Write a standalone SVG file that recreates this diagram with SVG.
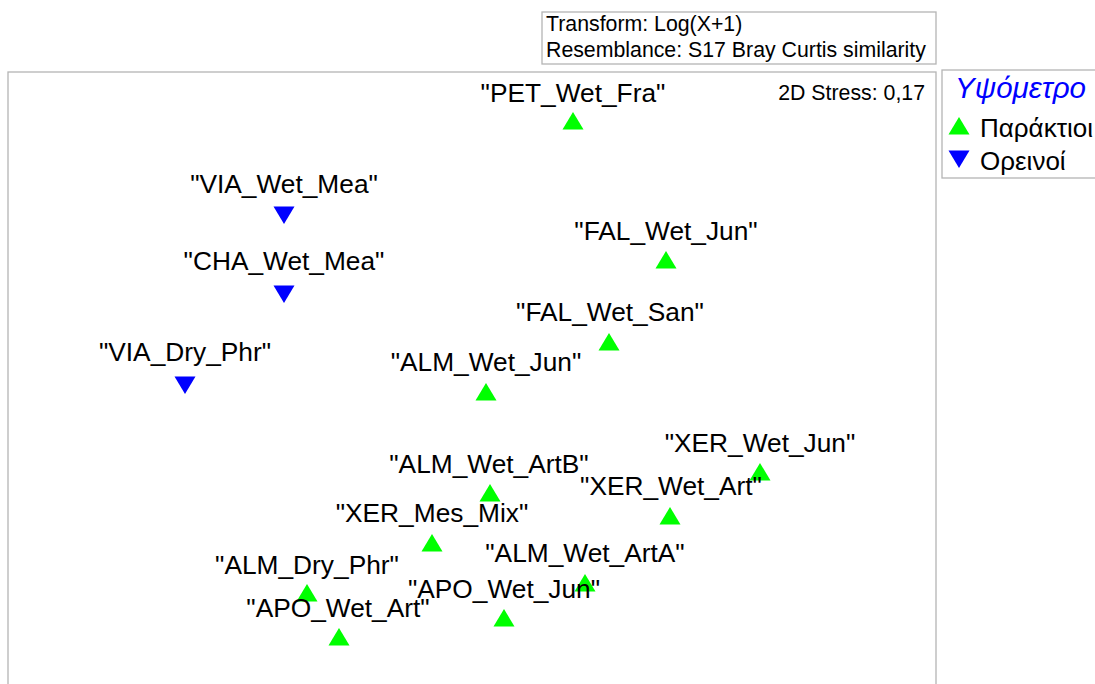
<svg xmlns="http://www.w3.org/2000/svg" width="1095" height="684" viewBox="0 0 1095 684">
<style>
.box{fill:#fff;stroke:#b4b4b4;stroke-width:1.3}
.lbl{font-family:"Liberation Sans",Arial,sans-serif;font-size:26.3px;fill:#000;text-anchor:middle}
.info{font-family:"Liberation Sans",Arial,sans-serif;font-size:21.3px;fill:#000}
.leg{font-family:"Liberation Sans",Arial,sans-serif;font-size:26px;fill:#000}
.up{fill:#00ff00}
.dn{fill:#0000ff}
</style>
<defs>
<polygon id="tu" points="0,-9 10.5,8.5 -10.5,8.5"/>
<polygon id="td" points="-10.5,-8.5 10.5,-8.5 0,9"/>
</defs>
<rect width="1095" height="684" fill="#fff"/>
<g id="info">
<rect class="box" x="542" y="12" width="394" height="52"/>
<text class="info" x="546" y="31">Transform: Log(X+1)</text>
<text class="info" x="546" y="57">Resemblance: S17 Bray Curtis similarity</text>
</g>
<g id="plot">
<rect class="box" x="8" y="72" width="928" height="630"/>
<text class="info" x="925" y="100" text-anchor="end">2D Stress: 0,17</text>
</g>
<g id="legend">
<rect class="box" x="942" y="70" width="170" height="108"/>
<text x="955" y="98" style="font-family:'Liberation Sans',Arial,sans-serif;font-size:29.5px;font-style:italic;fill:#0000ff">Υψόμετρο</text>
<use href="#tu" class="up" x="959" y="126"/>
<text class="leg" x="980" y="137">Παράκτιοι</text>
<use href="#td" class="dn" x="959" y="159"/>
<text class="leg" x="980" y="170">Ορεινοί</text>
</g>
<g id="connectors"></g>
<g id="n-PET_Wet_Fra"><text class="lbl" x="573" y="102">"PET_Wet_Fra"</text><use href="#tu" class="up" x="573" y="121"/></g>
<g id="n-VIA_Wet_Mea"><text class="lbl" x="284" y="193">"VIA_Wet_Mea"</text><use href="#td" class="dn" x="284" y="215"/></g>
<g id="n-CHA_Wet_Mea"><text class="lbl" x="284" y="270">"CHA_Wet_Mea"</text><use href="#td" class="dn" x="284" y="294"/></g>
<g id="n-VIA_Dry_Phr"><text class="lbl" x="185" y="361">"VIA_Dry_Phr"</text><use href="#td" class="dn" x="185" y="385"/></g>
<g id="n-FAL_Wet_Jun"><text class="lbl" x="666" y="240">"FAL_Wet_Jun"</text><use href="#tu" class="up" x="666" y="260"/></g>
<g id="n-FAL_Wet_San"><text class="lbl" x="610" y="321">"FAL_Wet_San"</text><use href="#tu" class="up" x="609" y="342"/></g>
<g id="n-ALM_Wet_Jun"><text class="lbl" x="486" y="371">"ALM_Wet_Jun"</text><use href="#tu" class="up" x="486" y="392"/></g>
<g id="n-ALM_Wet_ArtB"><text class="lbl" x="489" y="473">"ALM_Wet_ArtB"</text><use href="#tu" class="up" x="490" y="493"/></g>
<g id="n-XER_Wet_Jun"><text class="lbl" x="760" y="452">"XER_Wet_Jun"</text><use href="#tu" class="up" x="760" y="472"/></g>
<g id="n-XER_Wet_Art"><text class="lbl" x="671" y="495">"XER_Wet_Art"</text><use href="#tu" class="up" x="670" y="516"/></g>
<g id="n-XER_Mes_Mix"><text class="lbl" x="432" y="522">"XER_Mes_Mix"</text><use href="#tu" class="up" x="432" y="543"/></g>
<g id="n-ALM_Wet_ArtA"><text class="lbl" x="585" y="562">"ALM_Wet_ArtA"</text><use href="#tu" class="up" x="585" y="583"/></g>
<g id="n-ALM_Dry_Phr"><text class="lbl" x="307" y="574">"ALM_Dry_Phr"</text><use href="#tu" class="up" x="307" y="593"/></g>
<g id="n-APO_Wet_Jun"><text class="lbl" x="504" y="598">"APO_Wet_Jun"</text><use href="#tu" class="up" x="504" y="618"/></g>
<g id="n-APO_Wet_Art"><text class="lbl" x="338" y="617">"APO_Wet_Art"</text><use href="#tu" class="up" x="339" y="637"/></g>
</svg>
